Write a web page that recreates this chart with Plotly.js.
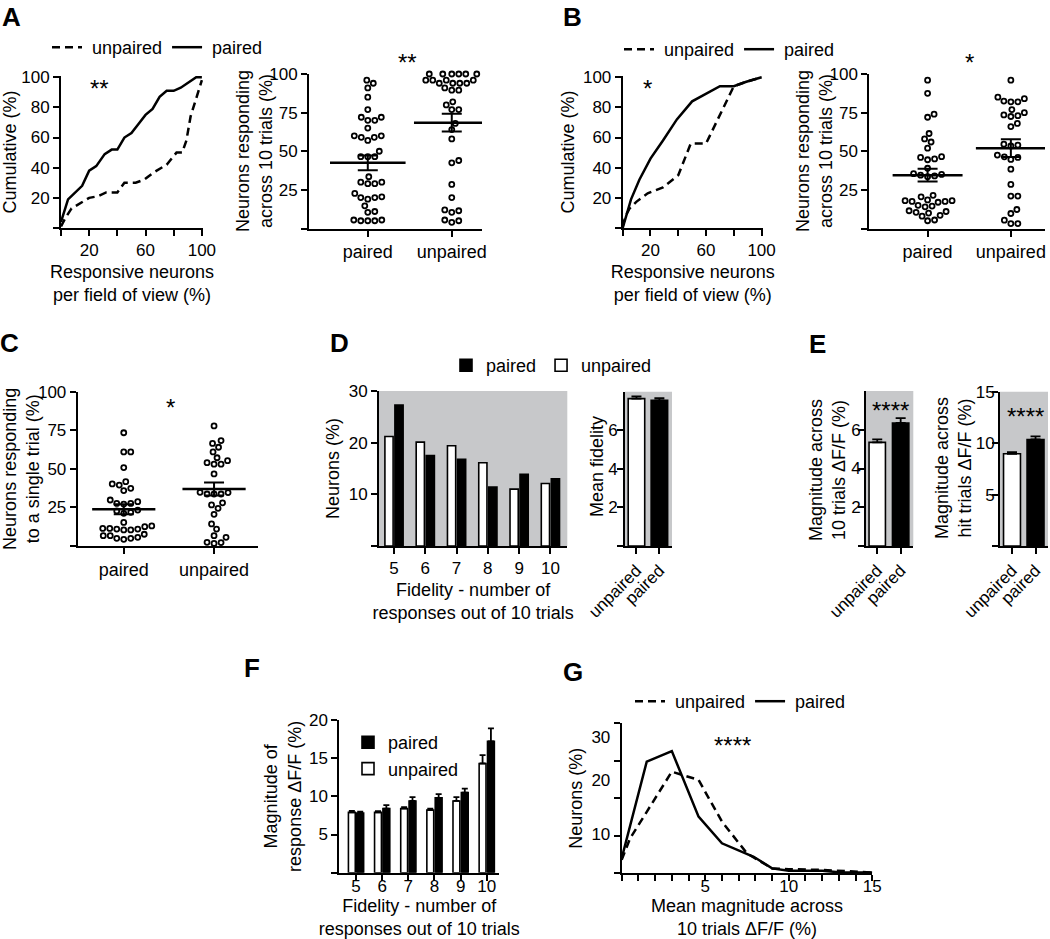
<!DOCTYPE html>
<html><head><meta charset="utf-8">
<script src="https://cdn.plot.ly/plotly-3.0.1.min.js"></script>
<style>html,body{margin:0;padding:0;background:#fff;}#chart{width:1050px;height:939px;}</style>
</head><body><div id="chart"></div>
<script>
// ---------------- DATA ----------------
// Panel A – cumulative distributions
const aCumPairedX   = [0,5,15,20,25,31,36,40,45,50,55,60,65,70,75,80,85,91,96,100];
const aCumPairedY   = [4,19,28,38,41,49,52,52,60,63,69,75,79,87,91,91,93,97,100,100];
const aCumUnpairedX = [0,3,7.5,15,20,26,32,40,45,53,59,66,75,82,86,89,92,96,100];
const aCumUnpairedY = [1,6.5,13,17.5,20,21,23.6,23.6,30,30,32,37,42,50,50,58,74,86,98];
// Panel A – neurons responding across 10 trials (%)
const aDotPaired   = [96,94,91,85,77,72,72,70,70,65,60,59,57,59,60,50,46.5,46.5,46.5,33.5,30,29,29,30,22.7,20,19,20,20.5,14.7,11,10.5,5.5,5,5,5,5.5];
const aDotUnpaired = [100,100,100,100,100,100,96,96,94,94,94,94,96,96,89.5,89.5,91,82,80,77,77,68,64,58,44,42.5,28.5,20,12,10.5,11.5,5,4,5.5];
const aMean = [42.5, 68.5];
const aSem  = [4.8, 5.7];
// Panel B – cumulative distributions
const bCumPairedX   = [0,6,12,20,29,39,50,60,70,80,89,100];
const bCumPairedY   = [0,19,32,46,58,72,84,89,94,94,97,100];
const bCumUnpairedX = [0,2,5,10,18,29,40,49,60,67,75,80,89,100];
const bCumUnpairedY = [1,8,13,17.5,23,27,35,56,56,69,84,94,97,100];
// Panel B – neurons responding across 10 trials (%)
const bDotPaired   = [96,87.5,74,72,61.5,58,56,52,46,45,44.5,46.5,39,35,34.5,34,33.5,35.5,21.5,20.5,18,17.5,17,17.5,18,18.5,15,14,14.5,11,10,10.5,11.5,8.5,8,5.5,5];
const bDotUnpaired = [96,84,85,82,82,82.5,77,73.5,72.5,73,75,68,66,54.6,53.4,54,47.5,46,44.7,46.4,38.4,28.5,21,21,12.3,9.7,5.4,3.2,3.2];
const bMean = [34.5, 52];
const bSem  = [4.1, 5.7];
// Panel C – neurons responding to a single trial (%)
const cDotPaired   = [73.4,61,61,50.8,41.7,39.5,35.9,37.4,40.2,28.7,27.6,27.2,27.6,29.8,22.7,21.2,21.8,23.3,15.3,12.5,11.4,11,10.4,10.4,11,11.4,13,7.6,6.7,5,4.3,5,5.6,6.7];
const cDotUnpaired = [77.8,68.3,66.5,64,61,57.2,54,53,53,55.3,46.7,34.8,33.7,33.7,33.7,34.6,28,26.6,24.4,20.5,14.3,11,6.7,5.6,2.4,1.7,2.2];
const cMean = [23.8, 37];
const cSem  = [3.2, 4.2];
const dotCats = ['paired','unpaired'];
// Panel D – fidelity distribution
const fidelity    = [5,6,7,8,9,10];
const dUnpaired   = [21.2,20.1,19.4,16.1,11.0,12.1];
const dPaired     = [27.3,17.5,16.8,11.4,13.9,13.0];
const meanFidCats = ['unpaired','paired'];
const meanFid     = [7.64, 7.55];
const meanFidErr  = [0.12, 0.12];
// Panel E – magnitudes
const eCats      = ['unpaired','paired'];
const e10Trials  = [5.35, 6.35];
const e10Err     = [0.15, 0.25];
const eHit       = [8.97, 10.36];
const eHitErr    = [0.15, 0.3];
// Panel F – magnitude by fidelity
const fUnpaired    = [7.9,7.9,8.4,8.2,9.4,14.3];
const fUnpairedErr = [0.2,0.15,0.2,0.2,0.5,1.1];
const fPaired      = [7.8,8.4,9.4,9.8,10.5,17.2];
const fPairedErr   = [0.2,0.45,0.5,0.5,0.5,1.7];
// Panel G – distribution of mean magnitude
const gPairedX   = [0,1.5,3,4.6,6,7.9,9,10,12,13,15];
const gPairedY   = [4,29.8,32.6,15.1,8,4.4,1.3,0.7,0.7,0.3,0.2];
const gUnpairedX = [0,0.5,1.5,3,4.6,6,7.5,9,10,12,15];
const gUnpairedY = [3.6,9.3,16.4,27.1,24.9,13.8,5.3,1.3,1.1,0.9,0.2];
const gYTickVals = [10.4,24.9,36.4];
const gYTickText = ['10','20','30'];

// ---------------- LAYOUT HELPERS ----------------
const W = 1050, H = 939;
const FONT = 'Liberation Sans, Arial, Helvetica, sans-serif';
const fx = p => p / W;
const fy = p => 1 - p / H;
const GRAY = '#c7c8ca';
const NB = '\u00a0';

// panel boxes in pixels: [left,right], [top,bottom]
const box = {
  1:{x:[61,203],     y:[76,228],    xr:[0,100.8],   yr:[0,100.8]},
  2:{x:[309,482],    y:[74,228.5],  xr:[-0.7,1.36], yr:[0,100]},
  3:{x:[622.7,762.7],y:[76,228],    xr:[0,100.8],   yr:[0,100.8]},
  4:{x:[869.3,1045], y:[74,228.5],  xr:[-0.7,1.41], yr:[0,100]},
  5:{x:[77.7,258.3], y:[391.7,546], xr:[-0.51,1.49],yr:[0,100]},
  6:{x:[379,567.3],  y:[391,546],   xr:[4.52,10.54],yr:[0,30]},
  7:{x:[625,672],    y:[391.7,546], xr:[-0.5,1.55], yr:[0,8]},
  8:{x:[866,913.3],  y:[391,546],   xr:[-0.48,1.54],yr:[0,8]},
  9:{x:[1000,1048],  y:[391.7,546], xr:[-0.51,1.53],yr:[0,15]},
  10:{x:[339.3,499.3],y:[720,872.7],xr:[4.36,10.48],yr:[0,20]},
  11:{x:[621.7,872.3],y:[723.3,873.3],xr:[0,15],   yr:[0,40]}
};
const ax = n => (n === 1 ? '' : String(n));

function baseAxis(extra){
  return Object.assign({
    showline:true, linecolor:'#000', linewidth:2, ticks:'outside', ticklen:6, tickwidth:2, tickcolor:'#000',
    showgrid:false, zeroline:false, fixedrange:true, automargin:false,
    tickfont:{family:FONT, size:17, color:'#000'}
  }, extra);
}
function ttl(text, standoff){ return {text:text, font:{family:FONT, size:18, color:'#000'}, standoff:standoff}; }

// simple beeswarm: horizontal offsets so that markers don't overlap
function swarm(vals, center, pxPerX, pxPerY, d){
  const placed = [], xs = new Array(vals.length);
  const order = vals.map((v,i)=>i).sort((a,b)=>vals[a]-vals[b]);
  for (const i of order){
    const y = vals[i]*pxPerY;
    let best = null;
    for (let k=0; k<600 && best===null; k++){
      const cands = k===0 ? [0] : [k*0.5, -k*0.5];
      for (const c of cands){
        if (placed.every(p => (p.x-c)*(p.x-c)+(p.y-y)*(p.y-y) >= d*d)){ best = c; break; }
      }
    }
    placed.push({x:best, y:y});
    xs[i] = center + best/pxPerX;
  }
  return xs;
}

const traces = [];
function dotPanel(n, groups, means, sems, hw){
  const b = box[n];
  const pxX = (b.x[1]-b.x[0])/(b.xr[1]-b.xr[0]);
  const pxY = (b.y[1]-b.y[0])/(b.yr[1]-b.yr[0]);
  groups.forEach((vals,c)=>{
    traces.push({type:'scatter', mode:'markers', x:swarm(vals,c,pxX,pxY,7), y:vals,
      xaxis:'x'+ax(n), yaxis:'y'+ax(n), cliponaxis:false, showlegend:false, hoverinfo:'skip',
      marker:{symbol:'circle', size:5, color:'#fff', line:{color:'#000', width:1.8}}});
  });
  means.forEach((m,c)=>{
    traces.push({type:'scatter', mode:'lines', x:[c-hw,c+hw], y:[m,m], xaxis:'x'+ax(n), yaxis:'y'+ax(n),
      line:{color:'#000', width:2.5}, showlegend:false, hoverinfo:'skip'});
    traces.push({type:'scatter', mode:'markers', x:[c], y:[m], xaxis:'x'+ax(n), yaxis:'y'+ax(n),
      marker:{size:1, color:'rgba(0,0,0,0)'}, showlegend:false, hoverinfo:'skip',
      error_y:{type:'data', array:[sems[c]], color:'#000', thickness:2, width:10}});
  });
}

const dashed = {color:'#000', width:2.5, dash:'8px,5px'};
const solid  = {color:'#000', width:2.5};

// A cumulative
traces.push({type:'scatter', mode:'lines', x:aCumUnpairedX, y:aCumUnpairedY, xaxis:'x', yaxis:'y', line:dashed, name:NB+'unpaired', legend:'legend', legendrank:1});
traces.push({type:'scatter', mode:'lines', x:aCumPairedX, y:aCumPairedY, xaxis:'x', yaxis:'y', line:solid, name:NB+'paired', legend:'legend', legendrank:2});
// B cumulative
traces.push({type:'scatter', mode:'lines', x:bCumUnpairedX, y:bCumUnpairedY, xaxis:'x3', yaxis:'y3', line:dashed, name:NB+'unpaired', legend:'legend2', legendrank:1});
traces.push({type:'scatter', mode:'lines', x:bCumPairedX, y:bCumPairedY, xaxis:'x3', yaxis:'y3', line:solid, name:NB+'paired', legend:'legend2', legendrank:2});
// dot plots
dotPanel(2, [aDotPaired, aDotUnpaired], aMean, aSem, 0.45);
dotPanel(4, [bDotPaired, bDotUnpaired], bMean, bSem, 0.42);
dotPanel(5, [cDotPaired, cDotUnpaired], cMean, cSem, 0.35);

// D bars
const barLine = {color:'#000', width:1.6};
traces.push({type:'bar', x:fidelity, y:dUnpaired, xaxis:'x6', yaxis:'y6', name:'unpaired', legend:'legend3', legendrank:2,
  marker:{color:'#fff', line:barLine}});
traces.push({type:'bar', x:fidelity, y:dPaired, xaxis:'x6', yaxis:'y6', name:'paired', legend:'legend3', legendrank:1,
  marker:{color:'#000', line:barLine}});
// D mean fidelity
traces.push({type:'bar', x:meanFidCats, y:meanFid, xaxis:'x7', yaxis:'y7', width:0.72, showlegend:false,
  marker:{color:['#fff','#000'], line:barLine},
  error_y:{type:'data', symmetric:false, array:meanFidErr, arrayminus:[0,0], color:'#000', thickness:1.8, width:5}});
// E
traces.push({type:'bar', x:eCats, y:e10Trials, xaxis:'x8', yaxis:'y8', width:0.7, showlegend:false,
  marker:{color:['#fff','#000'], line:barLine},
  error_y:{type:'data', symmetric:false, array:e10Err, arrayminus:[0,0], color:'#000', thickness:1.8, width:5}});
traces.push({type:'bar', x:eCats, y:eHit, xaxis:'x9', yaxis:'y9', width:0.72, showlegend:false,
  marker:{color:['#fff','#000'], line:barLine},
  error_y:{type:'data', symmetric:false, array:eHitErr, arrayminus:[0,0], color:'#000', thickness:1.8, width:5}});
// F
traces.push({type:'bar', x:fidelity, y:fUnpaired, xaxis:'x10', yaxis:'y10', name:'unpaired', legend:'legend4', legendrank:2,
  marker:{color:'#fff', line:barLine},
  error_y:{type:'data', symmetric:false, array:fUnpairedErr, arrayminus:[0,0,0,0,0,0], color:'#000', thickness:1.8, width:3}});
traces.push({type:'bar', x:fidelity, y:fPaired, xaxis:'x10', yaxis:'y10', name:'paired', legend:'legend4', legendrank:1,
  marker:{color:'#000', line:barLine},
  error_y:{type:'data', symmetric:false, array:fPairedErr, arrayminus:[0,0,0,0,0,0], color:'#000', thickness:1.8, width:3}});
// G
traces.push({type:'scatter', mode:'lines', x:gUnpairedX, y:gUnpairedY, xaxis:'x11', yaxis:'y11', line:dashed, name:NB+'unpaired', legend:'legend5', legendrank:1});
traces.push({type:'scatter', mode:'lines', x:gPairedX, y:gPairedY, xaxis:'x11', yaxis:'y11', line:solid, name:NB+'paired', legend:'legend5', legendrank:2});

// ---------------- AXES ----------------
const layout = {
  width:W, height:H, margin:{l:0,r:0,t:0,b:0}, paper_bgcolor:'#fff', plot_bgcolor:'rgba(0,0,0,0)',
  font:{family:FONT, size:18, color:'#000'}, showlegend:true, barmode:'group', bargap:0.36, bargroupgap:0.18,
  shapes:[], annotations:[]
};
function setAxes(n, xo, yo){
  const b = box[n];
  layout['xaxis'+ax(n)] = baseAxis(Object.assign({domain:[fx(b.x[0]),fx(b.x[1])], range:b.xr, anchor:'y'+ax(n)}, xo));
  layout['yaxis'+ax(n)] = baseAxis(Object.assign({domain:[fy(b.y[1]),fy(b.y[0])], range:b.yr, anchor:'x'+ax(n)}, yo));
}
const cumX = {tickmode:'array', tickvals:[0,20,40,60,80,100], ticktext:['','20','','60','','100'], title:ttl('Responsive neurons<br>per field of view (%)', 6)};
const cumY = {tickmode:'array', tickvals:[0,20,40,60,80,100], ticktext:['','20','40','60','80','100'], title:ttl('Cumulative (%)', 4)};
const dotX = {tickmode:'array', tickvals:[0,1], ticktext:dotCats, tickfont:{family:FONT,size:18,color:'#000'}};
const dotY = {tickmode:'array', tickvals:[0,25,50,75,100], ticktext:['','25','50','75','100']};
setAxes(1, cumX, cumY);
setAxes(2, dotX, dotY);
setAxes(3, cumX, cumY);
setAxes(4, dotX, dotY);
setAxes(5, dotX, Object.assign({title:ttl('Neurons responding<br>to a single trial (%)', 3)}, dotY));
setAxes(6, {tickmode:'array', tickvals:fidelity, title:ttl('Fidelity - number of<br>responses out of 10 trials', 6)},
           {tickmode:'array', tickvals:[0,10,20,30], ticktext:['','10','20','30'], title:ttl('Neurons (%)', 4)});
const rotX = {type:'category', tickangle:-45, tickfont:{family:FONT,size:17,color:'#000'}};
setAxes(7, rotX, {tickmode:'array', tickvals:[0,2,4,6], ticktext:['','2','4','6'], ticklabelstandoff:-4});
setAxes(8, rotX, {tickmode:'array', tickvals:[0,2,4,6], ticktext:['','2','4','6'], ticklabelstandoff:-6});
setAxes(9, rotX, {tickmode:'array', tickvals:[0,5,10,15], ticktext:['','5','10','15'], ticklabelstandoff:-6});
setAxes(10, {tickmode:'array', tickvals:fidelity, ticklabelstandoff:-9, title:ttl('Fidelity - number of<br>responses out of 10 trials', 2)},
            {tickmode:'array', tickvals:[0,5,10,15,20], ticktext:['','5','10','15','20'], title:ttl('Magnitude of<br>response ΔF/F (%)', 3)});
setAxes(11, {tickmode:'array', tickvals:[0,1,2,3,4,5,6,7,8,9,10,11,12,13,14,15], ticklabelstandoff:-10,
             ticktext:['','','','','','5','','','','','10','','','','','15'], title:ttl('Mean magnitude across<br>10 trials ΔF/F (%)', 4)},
            {tickmode:'array', tickvals:gYTickVals, ticktext:gYTickText, tickcolor:'rgba(0,0,0,0)', title:ttl('Neurons (%)', 4),
             minor:{tickmode:'array', tickvals:[0,10,20,30,40], ticks:'outside', ticklen:6, tickwidth:2, tickcolor:'#000'}});

// gray backgrounds
[6,7,8,9].forEach(n=>{
  layout.shapes.push({type:'rect', xref:'x'+ax(n)+' domain', yref:'y'+ax(n)+' domain', x0:0, x1:1, y0:0, y1:1,
    fillcolor:GRAY, line:{width:0}, layer:'below'});
});

// legends
const legFont = {family:FONT, size:18, color:'#000'};
const legBase = {orientation:'h', bgcolor:'rgba(0,0,0,0)', borderwidth:0, font:legFont, xanchor:'left', yanchor:'top', itemclick:false, itemdoubleclick:false, traceorder:'normal'};
layout.legend  = Object.assign({}, legBase, {x:fx(47),  y:fy(29)});
layout.legend2 = Object.assign({}, legBase, {x:fx(619), y:fy(31)});
layout.legend3 = Object.assign({}, legBase, {x:fx(446), y:fy(347)});
layout.legend4 = Object.assign({}, legBase, {orientation:'v', x:fx(348), y:fy(724)});
layout.legend5 = Object.assign({}, legBase, {x:fx(630), y:fy(683)});

// annotations: panel letters, rotated axis titles and significance marks
function note(text, px, py, size, bold, yanchor){
  layout.annotations.push({text: bold ? '<b>'+text+'</b>' : text, xref:'paper', yref:'paper', x:fx(px), y:fy(py),
    showarrow:false, xanchor:'center', yanchor:yanchor || 'middle', font:{family:FONT, size:size, color:'#000'}});
}
function vtitle(text, px, py){
  layout.annotations.push({text:text, xref:'paper', yref:'paper', x:fx(px), y:fy(py), textangle:-90,
    showarrow:false, xanchor:'center', yanchor:'middle', font:{family:FONT, size:18, color:'#000'}});
}
vtitle('Neurons responding<br>across 10 trials (%)', 254, 151);
vtitle('Neurons responding<br>across 10 trials (%)', 814, 151);
vtitle('Mean fidelity', 597, 467);
vtitle('Magnitude across<br>10 trials ΔF/F (%)', 827, 470);
vtitle('Magnitude across<br>hit trials ΔF/F (%)', 953, 468);

note('A', 11, 0, 26, true, 'top');
note('B', 572, 0, 26, true, 'top');
note('C', 9, 343, 26, true);
note('D', 339, 343, 26, true);
note('E', 817, 344, 26, true);
note('F', 252, 668, 26, true);
note('G', 573, 672, 26, true);
note('**', 99, 88, 24);
note('**', 407, 63, 24);
note('*', 647, 88, 24);
note('*', 969, 63, 24);
note('*', 170, 407, 24);
note('****', 890, 410, 24);
note('****', 1025, 416, 24);
note('****', 732, 745, 24);

Plotly.newPlot('chart', traces, layout, {staticPlot:true, displayModeBar:false});
</script>
</body></html>
